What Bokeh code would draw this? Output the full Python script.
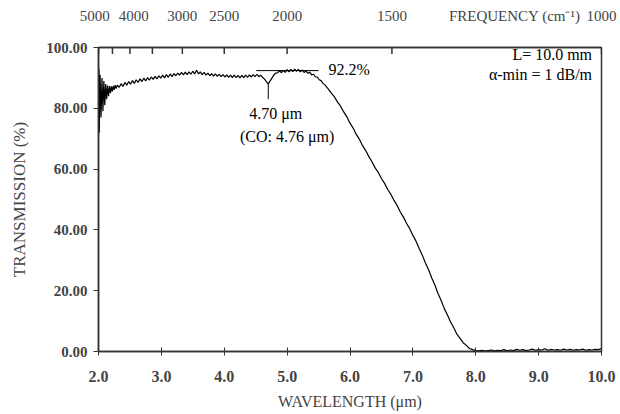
from bokeh.plotting import figure
from bokeh.models import (Range1d, LinearAxis, FixedTicker, CustomJSTickFormatter,
                          NumeralTickFormatter, Label)
from bokeh.embed import file_html
from bokeh.resources import INLINE

# ---- data ----
wl_a = [2.000, 2.006, 2.012, 2.025, 2.040, 2.055, 2.070, 2.085, 2.100, 2.115,
        2.130, 2.145, 2.160, 2.175, 2.190, 2.205, 2.220, 2.235, 2.250, 2.265,
        2.280, 2.300]
tr_a = [84.0, 93.0, 72.0, 91.0, 77.0, 90.0, 79.0, 89.0, 81.0, 88.0,
        83.0, 87.5, 84.0, 87.3, 85.0, 87.2, 85.6, 87.4, 86.1, 87.6,
        86.5, 87.6]

wl_b = [2.33, 2.36, 2.39, 2.42, 2.45, 2.48, 2.51, 2.54, 2.57, 2.60,
        2.63, 2.66, 2.69, 2.72, 2.75, 2.78, 2.81, 2.84, 2.87, 2.90,
        2.93, 2.96, 2.99, 3.02, 3.05, 3.08, 3.11, 3.14, 3.17, 3.20,
        3.23, 3.26, 3.29, 3.32, 3.35, 3.38, 3.41, 3.44, 3.47, 3.50,
        3.53, 3.56, 3.59, 3.62, 3.65, 3.68, 3.71, 3.74, 3.77, 3.80,
        3.83, 3.86, 3.89, 3.92, 3.95, 3.98, 4.01, 4.04, 4.07, 4.10,
        4.13, 4.16, 4.19, 4.22, 4.25, 4.28, 4.31, 4.34, 4.37, 4.40,
        4.43, 4.46, 4.49, 4.52, 4.55, 4.58, 4.61, 4.64, 4.67, 4.70,
        4.73, 4.76, 4.79, 4.82, 4.85, 4.88, 4.91, 4.94, 4.97, 5.00,
        5.03, 5.06, 5.09, 5.12, 5.15, 5.18, 5.21, 5.24, 5.27, 5.30,
        5.33, 5.36, 5.39, 5.42, 5.45, 5.48, 5.51, 5.54, 5.57, 5.60]
tr_b = [86.9, 88.1, 87.2, 88.5, 87.6, 88.8, 87.9, 89.1, 88.2, 89.4,
        88.5, 89.7, 88.8, 89.9, 89.0, 90.1, 89.3, 90.3, 89.5, 90.5,
        89.7, 90.7, 89.9, 90.9, 90.0, 91.1, 90.2, 91.3, 90.4, 91.4,
        90.7, 91.6, 90.9, 91.8, 91.0, 91.9, 91.1, 92.0, 91.2, 92.2,
        91.3, 92.5, 91.3, 92.0, 91.1, 91.8, 90.9, 91.6, 90.7, 91.4,
        90.6, 91.3, 90.5, 91.2, 90.4, 91.1, 90.3, 91.0, 90.2, 90.9,
        90.1, 90.9, 90.1, 90.8, 90.0, 90.8, 90.1, 90.9, 90.2, 91.0,
        90.3, 91.1, 90.4, 91.2, 90.4, 90.9, 90.2, 89.6, 88.8, 88.0,
        89.0, 90.0, 91.0, 91.6, 91.7, 92.4, 91.7, 92.5, 91.8, 92.7,
        92.0, 92.8, 92.1, 92.9, 92.2, 92.8, 92.0, 92.6, 91.8, 92.3,
        91.5, 91.9, 91.0, 91.2, 90.3, 90.3, 89.4, 89.1, 88.2, 87.7]

wl_c = [5.65, 5.70, 5.75, 5.80, 5.85, 5.90, 5.95, 6.00, 6.05, 6.10,
        6.15, 6.20, 6.25, 6.30, 6.35, 6.40, 6.45, 6.50, 6.55, 6.60,
        6.65, 6.70, 6.75, 6.80, 6.85, 6.90, 6.95, 7.00, 7.05, 7.10,
        7.15, 7.20, 7.25, 7.30, 7.35, 7.40, 7.45, 7.50, 7.55, 7.60,
        7.65, 7.70, 7.75, 7.80, 7.85, 7.90, 7.95, 8.00]
tr_c = [86.5, 85.1, 83.8, 82.1, 80.7, 78.8, 77.2, 75.1, 73.5, 71.4,
        69.8, 67.7, 66.1, 64.1, 62.4, 60.4, 58.9, 56.9, 55.3, 53.3,
        51.7, 49.7, 48.0, 45.9, 44.2, 42.1, 40.4, 38.2, 36.3, 33.9,
        31.7, 29.1, 26.9, 24.2, 21.9, 19.1, 16.8, 14.1, 12.0, 9.7,
        7.8, 5.7, 4.3, 2.9, 2.0, 1.0, 0.6, 0.3]

wl_d = [8.05, 8.10, 8.15, 8.20, 8.25, 8.30, 8.35, 8.40, 8.45, 8.50,
        8.55, 8.60, 8.65, 8.70, 8.75, 8.80, 8.85, 8.90, 8.95, 9.00,
        9.05, 9.10, 9.15, 9.20, 9.25, 9.30, 9.35, 9.40, 9.45, 9.50,
        9.55, 9.60, 9.65, 9.70, 9.75, 9.80, 9.85, 9.90, 9.95, 10.00]
tr_d = [0.2, 0.4, 0.1, 0.3, 0.5, 0.2, 0.4, 0.3, 0.6, 0.2,
        0.5, 0.3, 0.7, 0.4, 0.6, 0.3, 0.5, 0.8, 0.4, 0.6,
        0.5, 0.9, 0.4, 0.7, 0.5, 0.6, 0.4, 0.8, 0.5, 0.7,
        0.4, 0.6, 0.5, 0.8, 0.4, 0.6, 0.5, 0.7, 0.6, 1.0]

wavelength = wl_a + wl_b + wl_c + wl_d
transmission = tr_a + tr_b + tr_c + tr_d

x_ticks = [2.0, 3.0, 4.0, 5.0, 6.0, 7.0, 8.0, 9.0, 10.0]
y_ticks = [0, 20, 40, 60, 80, 100]
freq_ticks = [5000, 4500, 4000, 3500, 3000, 2500, 2000, 1500, 1000]
freq_labeled = [5000, 4000, 3000, 2500, 2000, 1500, 1000]
freq_title = "FREQUENCY (cm⁻¹)"
freq_title_x = 8.62

peak_value = 92.2
dip_wl = 4.70
co_wl = 4.76
length_mm = 10.0
alpha_min = 1

SERIF = "Liberation Serif"
AX = "#333333"

p = figure(width=618, height=412, output_backend="svg", toolbar_location=None,
           x_range=Range1d(2.0, 10.0), y_range=Range1d(0, 100),
           min_border_left=98, min_border_right=17, min_border_top=47,
           min_border_bottom=58)
p.background_fill_color = "white"
p.border_fill_color = "white"
p.xgrid.visible = False
p.ygrid.visible = False
p.outline_line_color = AX
p.outline_line_width = 1.5

p.line(wavelength, transmission, line_color="black", line_width=1.2)

# bottom axis
xa = p.xaxis[0]
xa.ticker = FixedTicker(ticks=x_ticks)
xa.formatter = NumeralTickFormatter(format="0.0")
xa.axis_label = "WAVELENGTH (μm)"
xa.axis_label_text_font = SERIF
xa.axis_label_text_font_style = "normal"
xa.axis_label_text_font_size = "16px"
xa.axis_label_standoff = 8
xa.major_label_text_font = SERIF
xa.major_label_text_font_style = "bold"
xa.major_label_text_font_size = "16px"
xa.major_label_standoff = 15
xa.major_tick_in = 4
xa.major_tick_out = 4
xa.minor_tick_line_color = None
xa.axis_line_color = AX
xa.axis_line_width = 1.5
xa.major_tick_line_color = AX

# left axis
ya = p.yaxis[0]
ya.ticker = FixedTicker(ticks=y_ticks)
ya.formatter = NumeralTickFormatter(format="0.00")
ya.axis_label = "TRANSMISSION (%)"
ya.axis_label_text_font = SERIF
ya.axis_label_text_font_style = "normal"
ya.axis_label_text_font_size = "17px"
ya.axis_label_standoff = 14
ya.major_label_text_font = SERIF
ya.major_label_text_font_style = "bold"
ya.major_label_text_font_size = "15px"
ya.major_label_standoff = 6
ya.major_tick_in = 0
ya.major_tick_out = 5
ya.minor_tick_line_color = None
ya.axis_line_color = AX
ya.axis_line_width = 1.5
ya.major_tick_line_color = AX

# top frequency axis (labels only; tick marks drawn inside the frame below)
top_pos = [1e4 / f for f in freq_ticks]
top = LinearAxis(
    ticker=FixedTicker(ticks=top_pos + [freq_title_x]),
    formatter=CustomJSTickFormatter(
        args=dict(labs=freq_labeled, title=freq_title, tx=freq_title_x), code="""
        if (Math.abs(tick - tx) < 1e-6) return title;
        const f = Math.round(10000 / tick);
        if (!labs.includes(f)) return '';
        if (f == 5000) return f.toString() + '\\u2002';
        if (f == 4000) return '\\u2002' + f.toString();
        return f.toString();
    """))
top.major_label_text_font = SERIF
top.major_label_text_font_size = "15px"
top.major_label_standoff = 24
top.major_tick_in = 0
top.major_tick_out = 0
top.major_tick_line_color = None
top.minor_tick_line_color = None
top.axis_line_color = AX
top.axis_line_width = 1.5
p.add_layout(top, "above")
p.segment(x0=top_pos, y0=[100] * len(top_pos), x1=top_pos, y1=[97.9] * len(top_pos),
          line_color=AX, line_width=1.5)

# annotations
p.segment(x0=[4.51], y0=[92.4], x1=[5.50], y1=[92.4], line_color="black", line_width=1)
p.segment(x0=[dip_wl], y0=[88.0], x1=[dip_wl], y1=[83.0], line_color="black", line_width=1)

def lab(x, y, text, align="left", size="16px"):
    p.add_layout(Label(x=x, y=y, text=text, text_font=SERIF, text_font_size=size,
                       text_align=align, text_baseline="middle", text_color="black"))

lab(5.66, 92.6, f"{peak_value}%")
lab(4.82, 78.3, f"{dip_wl:.2f} μm", align="center")
lab(5.00, 70.6, f"(CO: {co_wl:.2f} μm)", align="center")
lab(9.85, 97.6, f"L= {length_mm:.1f} mm", align="right")
lab(9.85, 91.0, f"α-min = {alpha_min} dB/m", align="right")

open("out.html", "w").write(file_html(p, INLINE))
